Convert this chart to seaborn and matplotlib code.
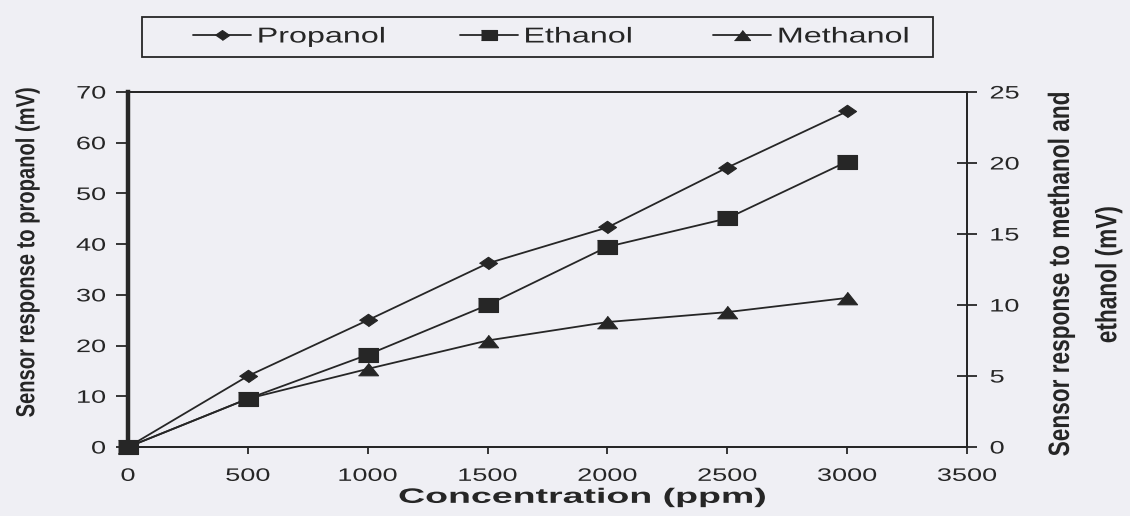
import matplotlib
matplotlib.use("Agg")
import matplotlib.pyplot as plt
import seaborn as sns
import pandas as pd
from matplotlib.patches import Rectangle
from matplotlib.patheffects import AbstractPathEffect
from matplotlib.transforms import Affine2D

sns.set_theme(style="white")
plt.rcParams["font.family"] = ["Liberation Sans", "DejaVu Sans"]

# Concentration steps (ppm)
concentration = [0, 500, 1000, 1500, 2000, 2500, 3000]
# Sensor response (mV); propanol on the left axis, ethanol/methanol on the right
propanol = [0, 14.0, 25.0, 36.2, 43.3, 55.1, 66.2]
ethanol = [0, 3.4, 6.5, 10.0, 14.1, 16.1, 20.1]
methanol = [0, 3.4, 5.5, 7.5, 8.8, 9.5, 10.5]
series_names = ["Propanol", "Ethanol", "Methanol"]

x_ticks = [0, 500, 1000, 1500, 2000, 2500, 3000, 3500]
left_ticks = [0, 10, 20, 30, 40, 50, 60, 70]
right_ticks = [0, 5, 10, 15, 20, 25]

bg = "#efeff4"
ink = "#262626"


class Widen(AbstractPathEffect):
    """Draw text glyphs stretched along/across the baseline (wide print look)."""

    def __init__(self, sx=1.0, sy=1.0, anchor=0.5):
        super().__init__()
        self.sx, self.sy, self.anchor = sx, sy, anchor

    def draw_path(self, renderer, gc, tpath, affine, rgbFace=None):
        ext = tpath.get_extents()
        cx = ext.x0 + self.anchor * (ext.x1 - ext.x0)
        local = Affine2D().translate(-cx, 0).scale(self.sx, self.sy).translate(cx, 0)
        renderer.draw_path(gc, tpath, local + affine, rgbFace)


# wide marker shapes
diamond = [(-1.45, 0), (0, 1), (1.45, 0), (0, -1)]
square = [(-1.5, -1), (1.5, -1), (1.5, 1), (-1.5, 1)]
triangle = [(-1.6, -1), (1.6, -1), (0, 1)]

fig = plt.figure(figsize=(11.3, 5.16), dpi=100, facecolor=bg)
ax = fig.add_axes([0.1133, 0.1337, 0.7425, 0.688])
ax.set_facecolor(bg)
ax2 = ax.twinx()

df_p = pd.DataFrame({"conc": concentration, "resp": propanol})
df_e = pd.DataFrame({"conc": concentration, "resp": ethanol})
df_m = pd.DataFrame({"conc": concentration, "resp": methanol})

common = dict(x="conc", y="resp", color=ink, lw=1.3, markeredgecolor=ink,
              markeredgewidth=0.8, legend=False, clip_on=False)
sns.lineplot(data=df_p, ax=ax, marker=diamond, markersize=13,
             label=series_names[0], zorder=5, **common)
sns.lineplot(data=df_m, ax=ax2, marker=triangle, markersize=14.5,
             label=series_names[2], zorder=4, **common)
sns.lineplot(data=df_e, ax=ax2, marker=square, markersize=14.5,
             label=series_names[1], zorder=5, **common)

ax.set_xlim(0, 3500)
ax.set_ylim(0, 70)
ax2.set_ylim(0, 25)
ax.set_xticks(x_ticks)
ax.set_yticks(left_ticks)
ax2.set_yticks(right_ticks)

for a in (ax, ax2):
    for s in a.spines.values():
        s.set_color(ink)
        s.set_linewidth(1.3)
ax.spines["left"].set_linewidth(3.2)
ax2.spines["left"].set_visible(False)

ax.tick_params(axis="y", direction="out", length=9, width=1.3, color=ink,
               labelsize=13, labelcolor=ink, pad=7, left=True)
ax.tick_params(axis="x", direction="out", length=5, width=1.3, color=ink,
               labelsize=13, labelcolor=ink, pad=10, bottom=True)
ax2.tick_params(axis="y", direction="inout", length=15, width=1.3, color=ink,
                labelsize=13, labelcolor=ink, pad=9, right=True)

for t in ax.get_yticklabels():
    t.set_path_effects([Widen(sx=1.5, anchor=1.0)])
for t in ax.get_xticklabels():
    t.set_path_effects([Widen(sx=1.5, anchor=0.5)])
for t in ax2.get_yticklabels():
    t.set_path_effects([Widen(sx=1.5, anchor=0.0)])

ax.set_xlabel("Concentration (ppm)", fontsize=15, fontweight="bold", color=ink,
              path_effects=[Widen(sx=1.8, anchor=0.5)])
ax.xaxis.set_label_coords(0.542, -0.115)

ax.set_ylabel("Sensor response to propanol (mV)", fontsize=14.5,
              fontweight="bold", color=ink,
              path_effects=[Widen(sy=1.3, anchor=0.5)])
ax.yaxis.set_label_coords(-0.107, 0.548)

ax2.set_ylabel("Sensor response to methanol and\nethanol (mV)", fontsize=16.3,
               fontweight="bold", color=ink, linespacing=2.35,
               path_effects=[Widen(sy=1.3, anchor=0.5)])
ax2.yaxis.set_label_coords(1.1, 0.485)

# legend: entries in one row inside a rectangular box above the plot
h1 = ax.get_lines()
h2 = ax2.get_lines()
handles = [h1[0], h2[1], h2[0]]
leg = fig.legend(handles, series_names, loc="center left", ncol=3,
                 bbox_to_anchor=(193 / 1130, 1 - 37 / 516),
                 fontsize=15.5, frameon=False, handlelength=2.7,
                 handletextpad=0.3, columnspacing=5.4, borderpad=0,
                 borderaxespad=0, markerscale=0.8)
for t in leg.get_texts():
    t.set_color(ink)
    t.set_path_effects([Widen(sx=1.5, anchor=0.0)])

fig.add_artist(Rectangle((142 / 1130, 1 - 57 / 516), 791 / 1130, 40 / 516,
                         transform=fig.transFigure, fill=False,
                         edgecolor=ink, linewidth=1.3))

fig.savefig("out.png", dpi=100, facecolor=bg)
